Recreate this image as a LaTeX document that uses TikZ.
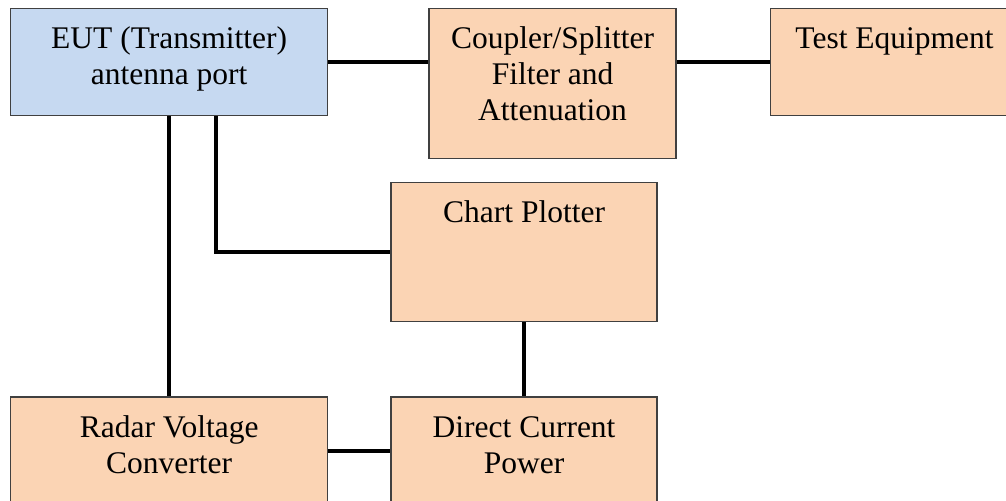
\documentclass[tikz,border=0pt]{standalone}
\usepackage{fontspec}
\setmainfont{Liberation Serif}
\usepackage{xcolor}
\usepackage{tikz}
\usetikzlibrary{positioning}
\definecolor{eutblue}{RGB}{198,217,241}
\definecolor{devorange}{RGB}{251,212,180}
\newcommand{\boxfont}{\fontsize{15.75}{18}\selectfont}
\newcommand{\boxtext}[3]{\parbox[c][#2][t]{#1}{\centering\rule{0pt}{20pt}#3}}
\tikzset{
  unit/.style    = {rectangle, draw=black!75, line width=0.7pt, inner sep=0pt,
                    font=\boxfont},
  eutbox/.style  = {unit, fill=eutblue},
  devbox/.style  = {unit, fill=devorange},
  wire/.style    = {line width=2pt, draw=black}
}
\begin{document}
\begin{tikzpicture}[x=0.5pt, y=-0.5pt]
  \useasboundingbox (0,0) rectangle (1006,501);
  \node[eutbox, anchor=north west] (eut) at (10,8)
    {\boxtext{158.5pt}{53.5pt}{EUT (Transmitter)\\antenna port}};
  \node[devbox] (coupler) [right=50pt of eut.north east, anchor=north west]
    {\boxtext{123.5pt}{75pt}{Coupler/Splitter\\Filter and\\Attenuation}};
  \node[devbox] (test) [right=46.5pt of coupler.north east, anchor=north west]
    {\boxtext{124pt}{53.5pt}{Test Equipment}};
  \node[devbox] (radar) [below=140pt of eut.south west, anchor=north west]
    {\boxtext{158.5pt}{54pt}{Radar Voltage\\Converter}};
  \node[devbox] (dc) [right=31pt of radar.north east, anchor=north west]
    {\boxtext{133pt}{54pt}{Direct Current\\Power}};
  \node[devbox] (chart) [above=37pt of dc.north west, anchor=south west]
    {\boxtext{133pt}{69.5pt}{Chart Plotter}};
  \coordinate (tap) at ([xshift=103pt]eut.south west);
  % connections
  \draw[wire] (eut.east) -- (eut.east -| coupler.west);
  \draw[wire] (test.west) -- (test.west -| coupler.east);
  \draw[wire] (eut.south) -- (radar.north);
  \draw[wire] (tap) |- (chart.west);
  \draw[wire] (chart.south) -- (dc.north);
  \draw[wire] (radar.east) -- (dc.west);
\end{tikzpicture}
\end{document}
